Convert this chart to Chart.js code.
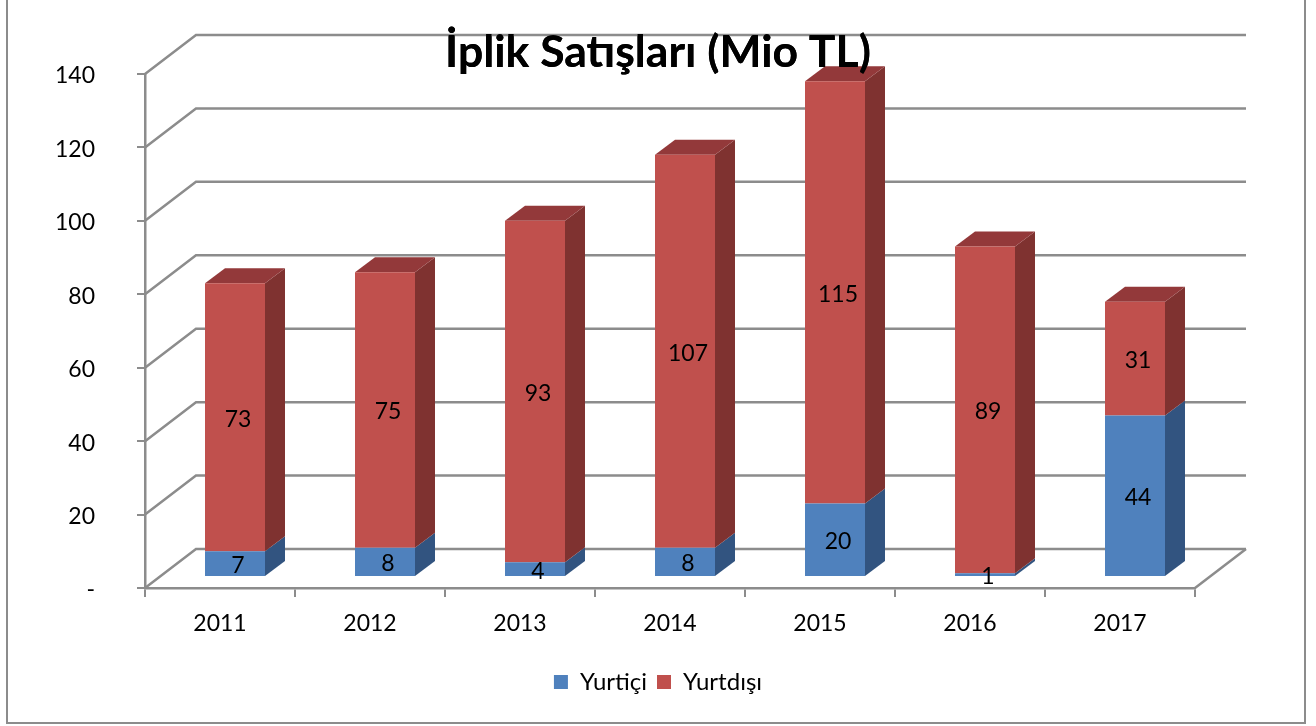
<!DOCTYPE html>
<html lang="tr">
<head>
<meta charset="utf-8">
<title>İplik Satışları</title>
<script src="https://cdn.jsdelivr.net/npm/chart.js@4"></script>
<style>
  html, body { margin: 0; padding: 0; background: #fff; }
  canvas { display: block; }
</style>
</head>
<body>
<canvas id="salesChart" width="1316" height="726"></canvas>
<script>
// ============================
// DATA
// ============================
const years = ["2011", "2012", "2013", "2014", "2015", "2016", "2017"];
const yurtici = [7, 8, 4, 8, 20, 1, 44];
const yurtdisi = [73, 75, 93, 107, 115, 89, 31];
const yTickLabels = ["-", "20", "40", "60", "80", "100", "120", "140"];

// ============================
// 3D LOOK
// ============================
const FONT = "Lato, Carlito, sans-serif";
const AXIS_COLOR = "#8c8c8c";
const WALL = { dx: 51, dy: -39 };   // depth of the floor and back wall
const BAR_SHIFT = { dx: 15, dy: -11 };  // bars stand inside the floor
const BAR_DEPTH = { dx: 20, dy: -15 };
const SIDE_COLORS = ["#325480", "#7f3230"];
const TOP_COLORS = ["#3d6596", "#93393a"];

function fillPoly(ctx, color, pts) {
  ctx.fillStyle = color;
  ctx.beginPath();
  pts.forEach((p, i) => (i ? ctx.lineTo(p[0], p[1]) : ctx.moveTo(p[0], p[1])));
  ctx.closePath();
  ctx.fill();
}

const frame3d = {
  id: "frame3d",
  beforeDraw(chart) {
    const ctx = chart.ctx;
    ctx.save();
    ctx.strokeStyle = AXIS_COLOR;
    ctx.lineWidth = 2;
    ctx.beginPath();
    ctx.moveTo(7, 0);
    ctx.lineTo(7, 723);
    ctx.lineTo(1305, 723);
    ctx.lineTo(1305, 0);
    ctx.stroke();
    ctx.restore();
  },
  beforeDatasetsDraw(chart) {
    const ctx = chart.ctx;
    const area = chart.chartArea;
    const yScale = chart.scales.y;

    // back wall lines and left wall diagonals
    ctx.save();
    ctx.strokeStyle = AXIS_COLOR;
    ctx.lineWidth = 2.5;
    yScale.ticks.forEach((t) => {
      const y = yScale.getPixelForValue(t.value);
      ctx.beginPath();
      ctx.moveTo(area.left, y);
      ctx.lineTo(area.left + WALL.dx, y + WALL.dy);
      ctx.lineTo(area.right + WALL.dx, y + WALL.dy);
      ctx.stroke();
    });
    // floor right edge
    ctx.beginPath();
    ctx.moveTo(area.right, area.bottom);
    ctx.lineTo(area.right + WALL.dx, area.bottom + WALL.dy);
    ctx.stroke();
    ctx.restore();

    // side and top faces of the bars
    ctx.save();
    ctx.translate(BAR_SHIFT.dx, BAR_SHIFT.dy);
    chart.data.datasets.forEach((ds, d) => {
      chart.getDatasetMeta(d).data.forEach((bar) => {
        const right = bar.x + bar.width / 2;
        const left = bar.x - bar.width / 2;
        fillPoly(ctx, SIDE_COLORS[d], [
          [right, bar.y],
          [right + BAR_DEPTH.dx, bar.y + BAR_DEPTH.dy],
          [right + BAR_DEPTH.dx, bar.base + BAR_DEPTH.dy],
          [right, bar.base],
        ]);
        if (d === chart.data.datasets.length - 1) {
          fillPoly(ctx, TOP_COLORS[d], [
            [left, bar.y],
            [left + BAR_DEPTH.dx, bar.y + BAR_DEPTH.dy],
            [right + BAR_DEPTH.dx, bar.y + BAR_DEPTH.dy],
            [right, bar.y],
          ]);
        }
      });
    });
    ctx.restore();

    // front faces get drawn by the library, moved onto the floor
    ctx.save();
    ctx.translate(BAR_SHIFT.dx, BAR_SHIFT.dy);
  },
  afterDatasetsDraw(chart) {
    const ctx = chart.ctx;
    ctx.restore();

    // value labels
    ctx.save();
    ctx.fillStyle = "#000";
    ctx.font = "23px " + FONT;
    ctx.textAlign = "center";
    ctx.textBaseline = "middle";
    chart.data.datasets.forEach((ds, d) => {
      chart.getDatasetMeta(d).data.forEach((bar, i) => {
        const cy = (bar.y + bar.base) / 2;
        ctx.fillText(ds.data[i], bar.x + BAR_SHIFT.dx + 3, cy + BAR_SHIFT.dy + 2);
      });
    });
    ctx.restore();

    // title sits on top of the 2015 bar
    chart.titleBlock.draw();
  },
};

// ============================
// CHART
// ============================
new Chart(document.getElementById("salesChart"), {
  type: "bar",
  data: {
    labels: years,
    datasets: [
      { label: "Yurtiçi", data: yurtici, backgroundColor: "#4f81bd", clip: false },
      { label: "Yurtdışı", data: yurtdisi, backgroundColor: "#c0504d", clip: false },
    ],
  },
  options: {
    responsive: false,
    animation: false,
    barPercentage: 0.4,
    categoryPercentage: 1,
    layout: { padding: { left: 0, right: 0, top: 0, bottom: 22 } },
    plugins: {
      tooltip: { enabled: false },
      title: {
        display: true,
        text: "İplik Satışları (Mio TL)",
        color: "#000",
        font: { family: FONT, size: 44.5, weight: "bold", lineHeight: 1 },
        padding: { top: 30, bottom: -0.5 },
      },
      legend: {
        position: "bottom",
        labels: {
          color: "#000",
          font: { family: FONT, size: 24 },
          boxWidth: 14,
          boxHeight: 14,
          padding: 10,
        },
      },
    },
    scales: {
      x: {
        stacked: true,
        afterFit(scale) { scale.height = 72; },
        grid: {
          drawOnChartArea: false,
          color: AXIS_COLOR,
          lineWidth: 2,
          tickLength: 9,
        },
        border: { color: AXIS_COLOR, width: 2.5 },
        ticks: { color: "#000", font: { family: FONT, size: 23 }, padding: 13, maxRotation: 0 },
      },
      y: {
        stacked: true,
        min: 0,
        max: 140,
        afterFit(scale) { scale.width = 145; },
        grid: {
          drawOnChartArea: false,
          color: AXIS_COLOR,
          lineWidth: 2,
          tickLength: 8,
        },
        border: { color: AXIS_COLOR, width: 2.5 },
        ticks: {
          stepSize: 20,
          color: "#000",
          font: { family: FONT, size: 23 },
          padding: 42,
          labelOffset: 2,
          callback: (value, i) => yTickLabels[i],
        },
      },
      // empty axis, keeps the right margin free for the floor depth
      spacer: {
        position: "right",
        afterFit(scale) { scale.width = 121; },
        grid: { display: false },
        border: { display: false },
        ticks: { display: false },
      },
    },
  },
  plugins: [frame3d],
});
</script>
</body>
</html>
